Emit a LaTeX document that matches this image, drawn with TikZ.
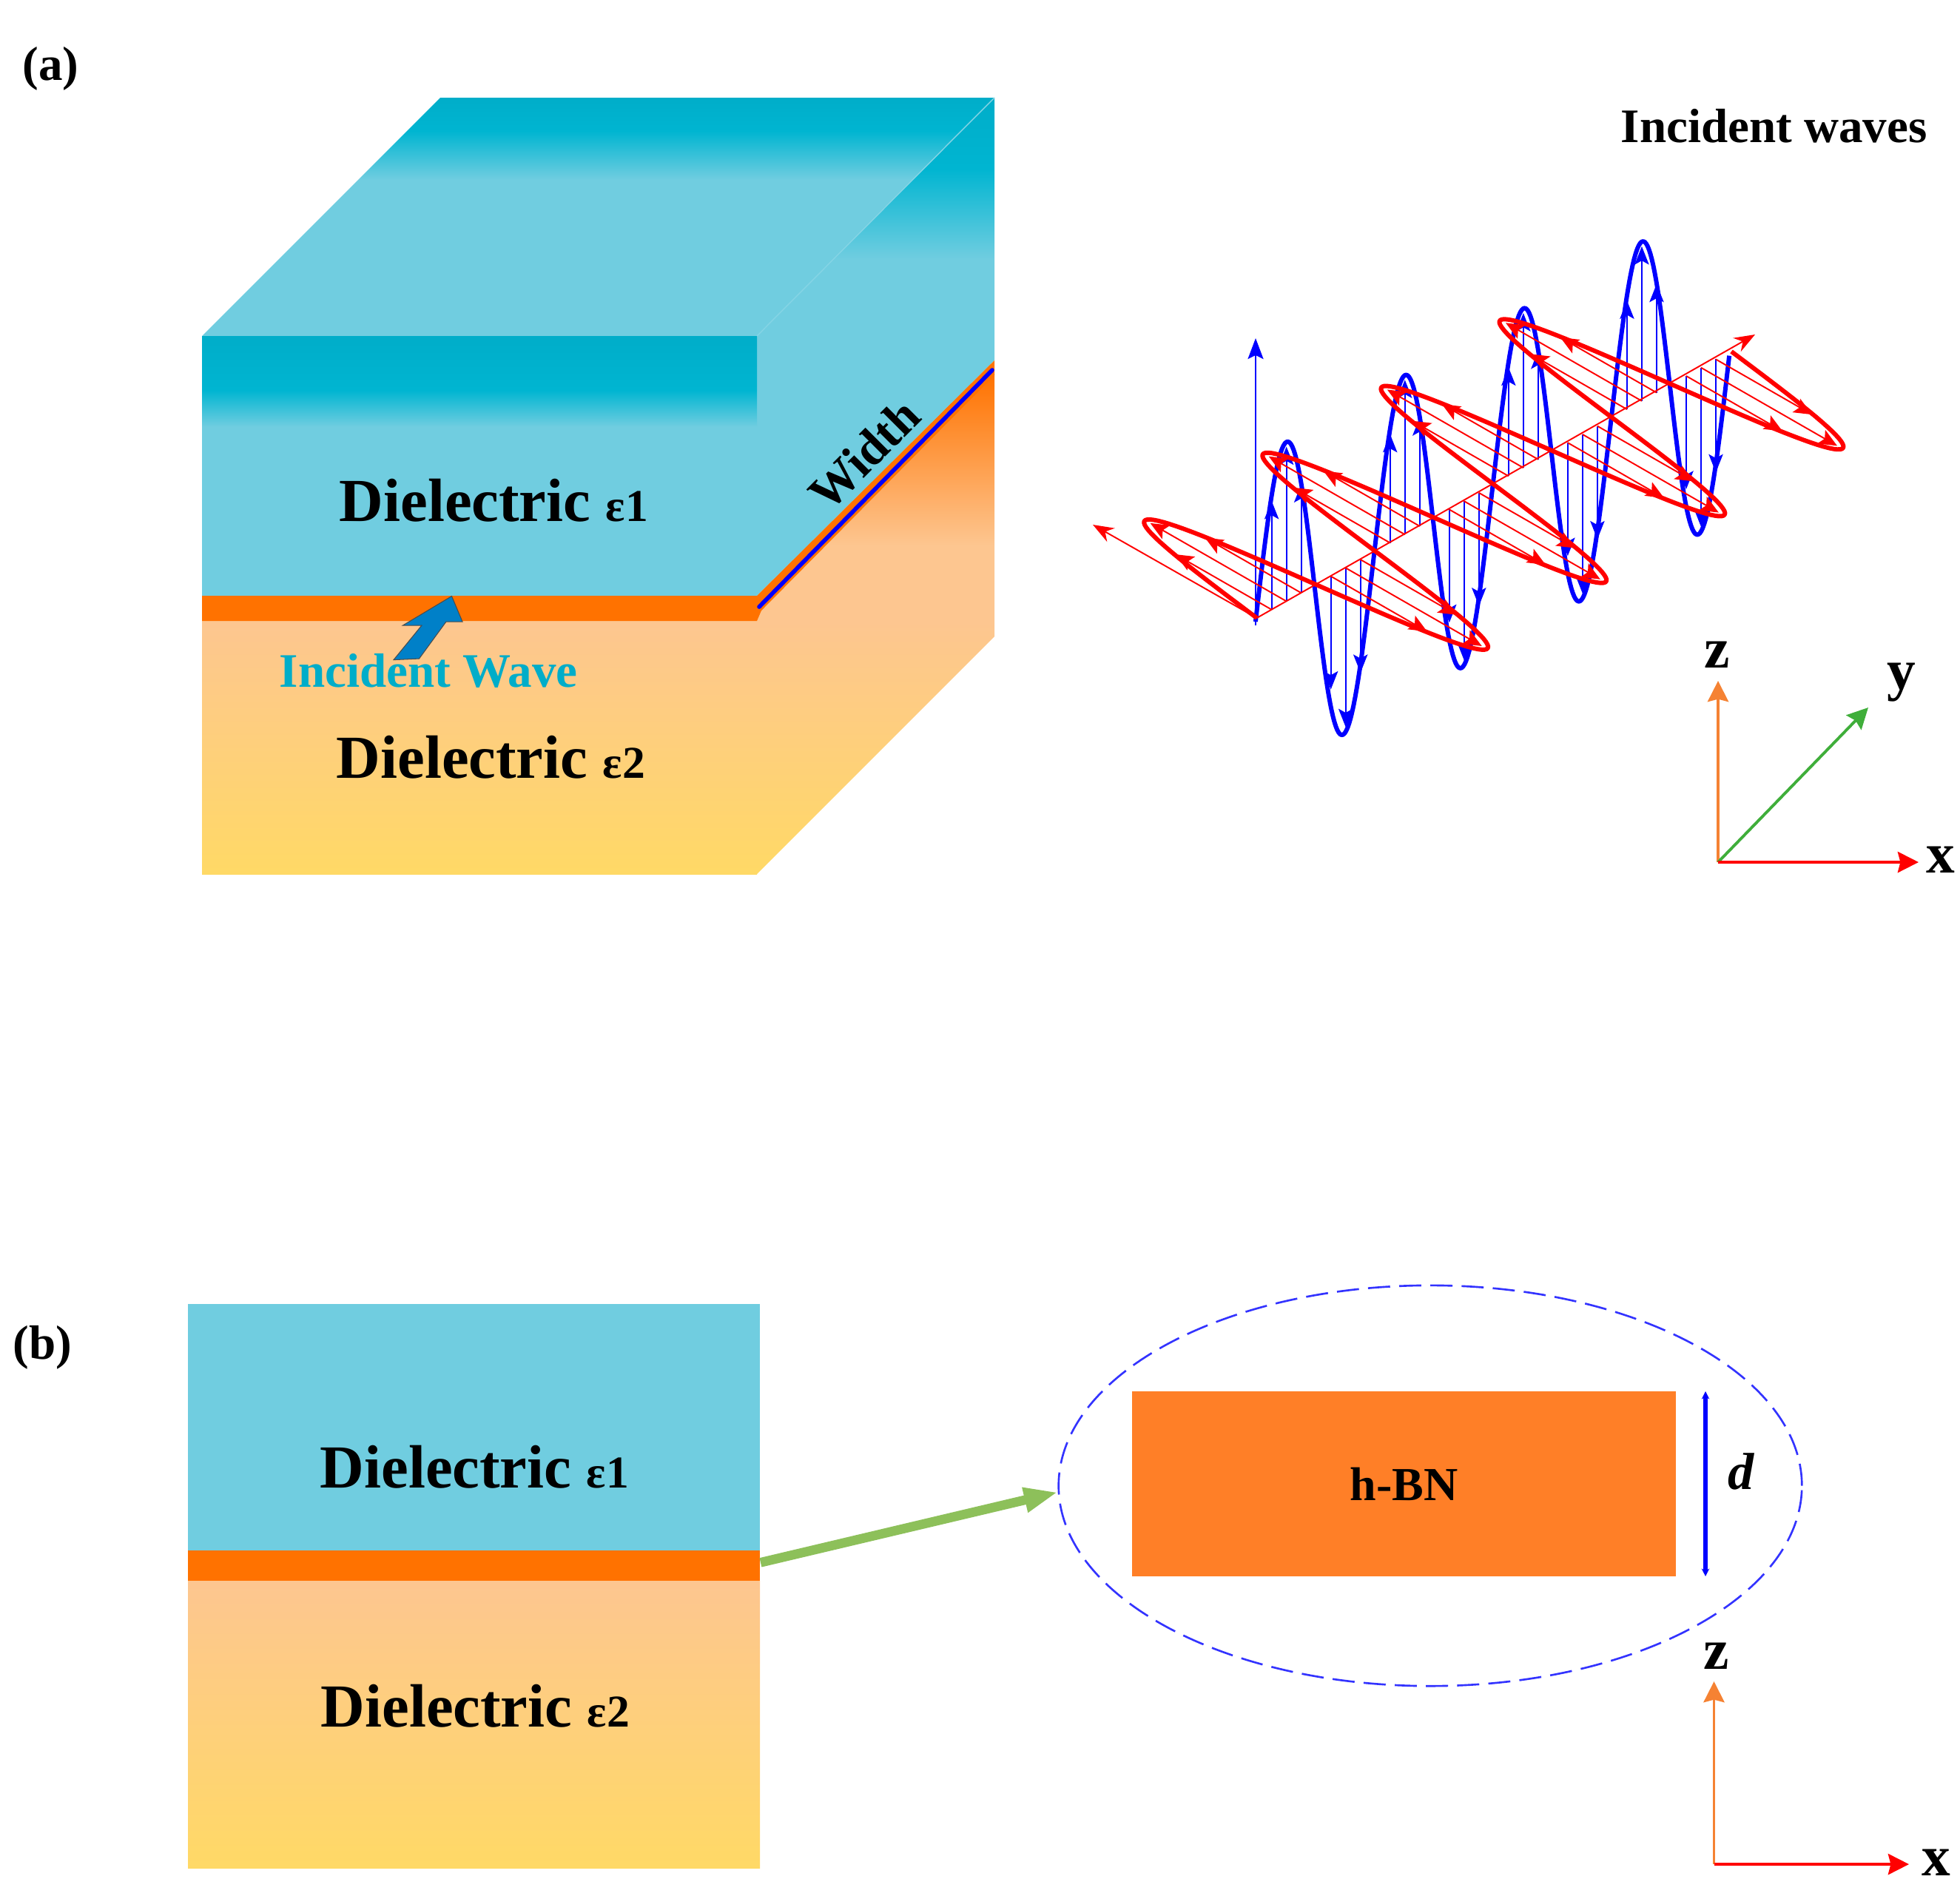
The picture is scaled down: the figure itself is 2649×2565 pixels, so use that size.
\documentclass[tikz,border=0pt]{standalone}
\usepackage{fontspec}
\setmainfont{Liberation Serif}
\usetikzlibrary{arrows.meta,shapes.geometric}
\definecolor{bluedark}{HTML}{00ADC9}
\definecolor{bluemid}{HTML}{00B5D1}
\definecolor{bluelight}{HTML}{70CDE0}
\definecolor{layerorange}{HTML}{FF7200}
\definecolor{boxorange}{HTML}{FF7F27}
\definecolor{peach}{HTML}{FDC690}
\definecolor{sand}{HTML}{FFD966}
\definecolor{axisorange}{HTML}{F58233}
\definecolor{axisgreen}{HTML}{3FAE3A}
\definecolor{linkgreen}{HTML}{8DC05A}
\definecolor{arrowblue}{HTML}{0080C8}
% 25bp = bottom of the path, 75bp = top of the path
\pgfdeclareverticalshading{frontblue}{100bp}{color(0bp)=(bluelight); color(57.5bp)=(bluelight);
  color(64.6bp)=(bluemid); color(75bp)=(bluedark); color(100bp)=(bluedark)}
\pgfdeclareverticalshading{topblue}{100bp}{color(0bp)=(bluelight); color(57.8bp)=(bluelight);
  color(68bp)=(bluemid); color(75bp)=(bluedark); color(100bp)=(bluedark)}
\pgfdeclareverticalshading{sideblue}{100bp}{color(0bp)=(bluelight); color(58.8bp)=(bluelight);
  color(67.9bp)=(bluemid); color(75bp)=(bluedark); color(100bp)=(bluedark)}
\pgfdeclareverticalshading{sideorange}{100bp}{color(0bp)=(sand); color(25bp)=(sand);
  color(50.3bp)=(peach); color(57.8bp)=(peach); color(75bp)=(layerorange); color(100bp)=(layerorange)}
\tikzset{
  bigtext/.style   = {font=\bfseries\fontsize{23.5}{23.5}\selectfont, anchor=base west, inner sep=0pt},
  midtext/.style   = {font=\bfseries\fontsize{18.5}{18.5}\selectfont, anchor=base west, inner sep=0pt},
  axistext/.style  = {font=\bfseries\fontsize{22}{22}\selectfont, inner sep=0pt},
  lowerfill/.style = {top color=peach, bottom color=sand},
  hatchb/.style    = {blue, line width=.55pt, -{Stealth[length=7pt,width=5.5pt,inset=1.5pt]}},
  hatchr/.style    = {red, line width=.55pt, -{Stealth[length=7pt,width=6pt,inset=1.5pt]}},
  axisline/.style  = {line width=1.1pt, -{Stealth[length=8pt,width=8pt,inset=1pt]}},
  wave/.style      = {line width=1.7pt, line join=round}
}
\newcommand{\epsone}{{\fontsize{17.5}{17.5}\selectfont ε1}}
\newcommand{\epstwo}{{\fontsize{17.5}{17.5}\selectfont ε2}}
\begin{document}
\begin{tikzpicture}[x=.01cm, y=-.01cm,
    declare function = {wx(\t)=1698.6+80.05*\t; wy(\t)=835-45.1*\t;}]
  \useasboundingbox (0,0) rectangle (2649,2565);
  % (a) the block
  \shade[shading=topblue] (595,132) -- (1344,132) -- (1023,454) -- (273,454) -- cycle;
  \shade[shading=sideblue] (1023,454) -- (1344,132) -- (1344,487) -- (1023,805) -- cycle;
  \draw[bluelight!85!white, line width=.4pt] (1023,454) -- (1344,132);
  \shade[shading=sideorange] (1023,825) -- (1344,505) -- (1344,860) -- (1023,1181) -- cycle;
  \shade[lowerfill] (273,839) rectangle (1023,1181);
  \shade[shading=frontblue] (273,454) rectangle (1023,805);
  \fill[layerorange] (273,805) -- (1023,805) -- (1344,487) -- (1344,507) -- (1029,825) -- (1023,839) -- (273,839) -- cycle;
  \coordinate (wa) at (1026,820);
  \coordinate (wb) at (1341,500);
  \draw[blue, line width=1.6pt, line cap=round] (wa) -- (wb);
  \filldraw[fill=arrowblue, draw=black!70, line width=.3pt] (610.5,805.5) -- (625,840) -- (603,840) -- (566.5,890)
    -- (532,891.6) -- (570,845) -- (544.5,845) -- cycle;
  \node[midtext, text=bluedark] (incw) at (377,928) {Incident Wave};
  \node[bigtext] (diel1a) at (458,704) {Dielectric \epsone};
  \node[bigtext] (diel2a) at (454,1051) {Dielectric \epstwo};
  \node[font=\bfseries\fontsize{19}{19}\selectfont, rotate=45, inner sep=0pt] (width) at (1168,614) {Width};
  \node[midtext] (laba) at (30,108) {(a)};
  \node[midtext] (incs) at (2190,192) {Incident waves};
  % (a) the wave
  \coordinate (wo) at (1698.6,835);
  \coordinate (wob) at (1697,845);
  \coordinate (wz) at (1697,457);
  \coordinate (we) at (1477,709);
  \coordinate (wy) at (2372,452);
  \draw[blue, line width=.55pt, -{Stealth[length=8pt,width=6pt,inset=1.5pt]}] (wob) -- (wz);
  \draw[wave, blue] plot[domain=0:8, samples=321, variable=\t]
    ({wx(\t)-1.7+1.7*sin(180*\t)},{wy(\t)+5-220.3*sin(180*\t)});
  \foreach \k in {0,...,7}
    \foreach \f in {.25,.5,.75} {
      \pgfmathsetmacro{\tt}{\k+\f}
      \draw[hatchb] ({wx(\tt)},{wy(\tt)}) -- ({wx(\tt)},{wy(\tt)+3-212*sin(180*\tt)});
    }
  \draw[hatchr, -{Stealth[length=8pt,width=6pt]}] (wo) -- (we);
  \draw[hatchr, -{Stealth[length=8pt,width=6pt]}] (wo) -- (wy);
  \foreach \k in {0,...,7}
    \foreach \f in {.25,.5,.75} {
      \pgfmathsetmacro{\tt}{\k+\f}
      \draw[hatchr] ({wx(\tt)},{wy(\tt)}) -- ({wx(\tt)-184*sin(180*\tt)},{wy(\tt)-105.6*sin(180*\tt)});
    }
  \draw[wave, red] plot[domain=0:8, samples=321, variable=\t]
    ({wx(\t)-190.8*sin(180*\t)},{wy(\t)-109.6*sin(180*\t)});
  % (a) the axes
  \coordinate (oa) at (2322,1165);
  \node[axistext] (za) at (2321,885) {z};
  \node[axistext] (ya) at (2570,922) {y};
  \node[axistext] (xa) at (2623,1162) {x};
  \draw[axisline, axisorange] (oa) -- (2322,920);
  \draw[axisline, axisgreen] (oa) -- (2525,956);
  \draw[axisline, red] (oa) -- (2593,1165);
  % (b) the layers
  \node[midtext] (labb) at (17,1836) {(b)};
  \fill[bluelight] (254,1762) rectangle (1027,2096);
  \shade[lowerfill] (254,2136) rectangle (1027,2524);
  \node[fill=layerorange, minimum width=7.73cm, minimum height=.405cm, inner sep=0pt] (layerb) at (640.5,2115.5) {};
  \node[bigtext] (diel1b) at (432,2010) {Dielectric \epsone};
  \node[bigtext] (diel2b) at (433,2333) {Dielectric \epstwo};
  % (b) the zoomed film
  \node[ellipse, draw=blue!80!white, dash pattern=on 8.5pt off 3.5pt, line width=.75pt, inner sep=0pt,
        minimum width=10.04cm, minimum height=5.41cm] (film) at (1933,2007.5) {};
  \node[fill=boxorange, minimum width=7.35cm, minimum height=2.5cm, inner sep=0pt,
        font=\bfseries\fontsize{18.2}{18.2}\selectfont] (hbn) at (1897.5,2005) {h-BN};
  \draw[linkgreen, line width=3.6pt, -{Stealth[length=13pt,width=9pt,inset=0pt]}] ([yshift=1.2pt]layerb.east) -- (film.181.3);
  \coordinate (da) at (2305,1880);
  \coordinate (db) at (2305,2130);
  \draw[blue, line width=1.5pt, {Stealth[length=3pt,width=3pt]}-{Stealth[length=3pt,width=3pt]}] (da) -- (db);
  \node[font=\bfseries\itshape\fontsize{20}{20}\selectfont, inner sep=0pt] (dlab) at (2353,1988) {d};
  % (b) the axes
  \coordinate (ob) at (2316.5,2519);
  \node[axistext] (zb) at (2320,2238) {z};
  \node[axistext] (xb) at (2617,2517) {x};
  \draw[axisline, axisorange] (ob) -- (2316.5,2272);
  \draw[axisline, red] (ob) -- (2580,2519);
\end{tikzpicture}
\end{document}
